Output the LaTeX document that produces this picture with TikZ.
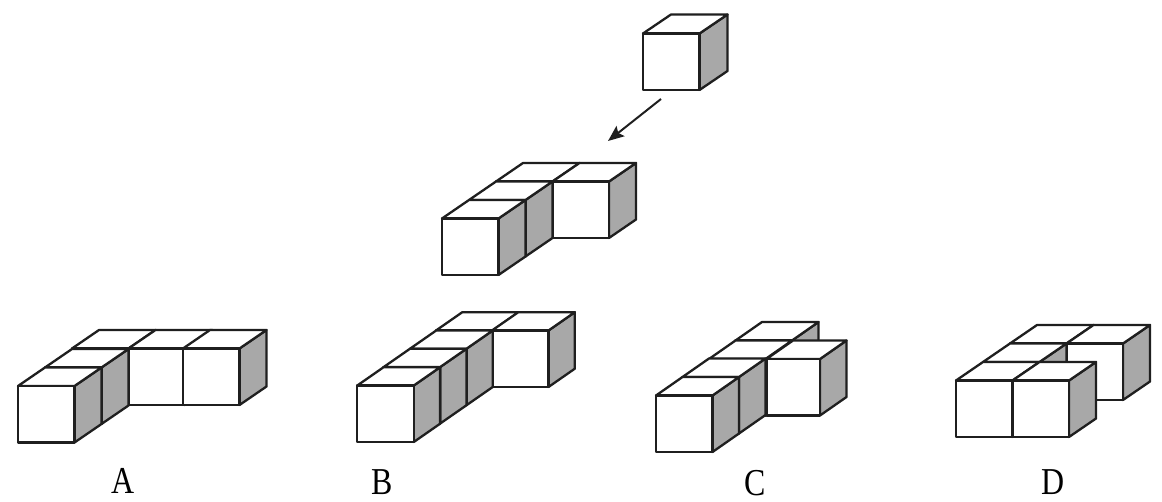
\documentclass[tikz,border=0pt]{standalone}
\usepackage{fontspec}
\setmainfont{Liberation Serif}
\usetikzlibrary{arrows.meta}
\tikzset{
  frontface/.style={draw=black!88,fill=white,line width=2.3pt,line join=round},
  topface/.style={draw=black!88,fill=white,line width=2.3pt,line join=round},
  sideface/.style={draw=black!88,fill=black!34,line width=2.3pt,line join=round},
  pointer/.style={draw=black!88,line width=2pt,-{Stealth[length=16pt,width=13pt,inset=3pt]}},
  optionlabel/.style={inner sep=0pt,anchor=base,font=\fontsize{38}{38}\selectfont}
}
% #1,#2 front bottom-left corner, #3 width, #4 height, #5,#6 depth offset
\newcommand{\isobox}[6]{%
  \path[sideface] (#1+#3,#2) -- (#1+#3,#2-#4) -- (#1+#3+#5,#2-#4-#6) -- (#1+#3+#5,#2-#6) -- cycle;
  \path[topface] (#1,#2-#4) -- (#1+#3,#2-#4) -- (#1+#3+#5,#2-#4-#6) -- (#1+#5,#2-#4-#6) -- cycle;
  \path[frontface] (#1,#2) rectangle (#1+#3,#2-#4);
}
\begin{document}
\begin{tikzpicture}[x=1pt,y=-1pt]
\useasboundingbox (0,0) rectangle (1162,502);
% single cube
\isobox{643}{90}{56.5}{56.5}{28}{19}
% arrow
\coordinate (arrowstart) at (661,99);
\coordinate (arrowend) at (608,141);
\draw[pointer] (arrowstart) -- (arrowend);
% middle figure
\isobox{496}{238}{56.5}{56.5}{27}{18.5}
\isobox{552.5}{238}{56.5}{56.5}{27}{18.5}
\isobox{469}{256.5}{56.5}{56.5}{27}{18.5}
\isobox{442}{275}{56.5}{56.5}{27}{18.5}
% A
\isobox{72}{405}{56.5}{56.5}{27}{18.5}
\isobox{128.5}{405}{56.5}{56.5}{27}{18.5}
\isobox{183}{405}{56.5}{56.5}{27}{18.5}
\isobox{45}{424}{56.5}{56.5}{27}{18.5}
\isobox{18}{442.5}{56.5}{56.5}{27}{18.5}
% B
\isobox{436}{387}{56.5}{56.5}{26.3}{18.3}
\isobox{492}{387}{56.5}{56.5}{26.3}{18.3}
\isobox{409.9}{405.3}{56.5}{56.5}{26.3}{18.3}
\isobox{383.6}{423.6}{56.5}{56.5}{26.3}{18.3}
\isobox{357.3}{442}{56.5}{56.5}{26.3}{18.3}
% C
\isobox{735.5}{397}{56.5}{56.5}{26.5}{18.5}
\isobox{709}{415.5}{56.5}{56.5}{26.5}{18.5}
\isobox{766.5}{415.5}{53.5}{56.5}{26.5}{18.5}
\isobox{682.5}{433.5}{56.5}{56.5}{26.5}{18.5}
\isobox{656}{452}{56.5}{56.5}{26.5}{18.5}
% D
\isobox{1010}{400}{56.5}{56.5}{27}{18.5}
\isobox{1066.5}{400}{56.5}{56.5}{27}{18.5}
\isobox{983}{418.5}{56.5}{56.5}{27}{18.5}
\isobox{956}{437}{56.5}{56.5}{27}{18.5}
\isobox{1012.5}{437}{56.5}{56.5}{27}{18.5}
% labels
\node[optionlabel] (labelA) at (123.5,493) {\scalebox{0.84}[1]{A}};
\node[optionlabel] (labelB) at (382,494) {\scalebox{0.84}[1]{B}};
\node[optionlabel] (labelC) at (755,495) {\scalebox{0.84}[1]{C}};
\node[optionlabel] (labelD) at (1053.5,494) {\scalebox{0.84}[1]{D}};
\end{tikzpicture}
\end{document}
